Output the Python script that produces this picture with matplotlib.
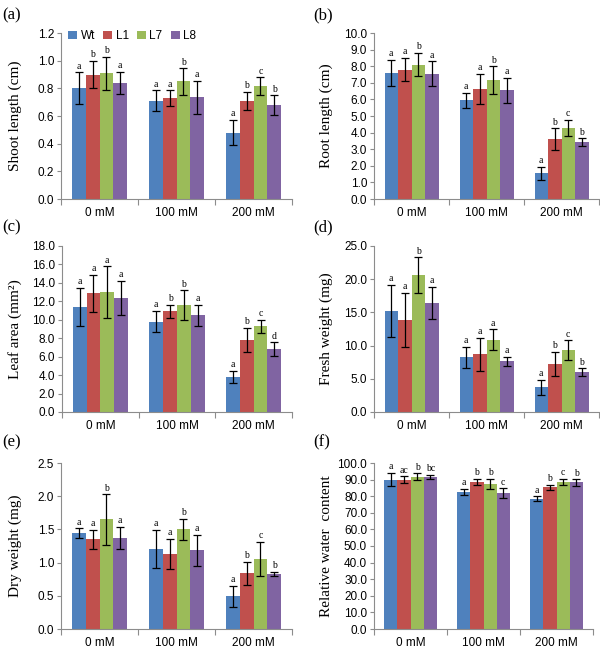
import matplotlib
matplotlib.use("Agg")
import matplotlib.pyplot as plt
import matplotlib.transforms as mtrans
import numpy as np

# ---------------- data ----------------
conditions = ["0 mM", "100 mM", "200 mM"]
lines = ["Wt", "L1", "L7", "L8"]
colors = ["#4F81BD", "#C0504D", "#9BBB59", "#8064A2"]

# rows: Wt, L1, L7, L8 ; columns: 0, 100, 200 mM
shoot_mean = [[0.80, 0.71, 0.48], [0.90, 0.73, 0.71], [0.91, 0.85, 0.815], [0.84, 0.735, 0.68]]
shoot_err = [[0.115, 0.075, 0.09], [0.10, 0.055, 0.065], [0.12, 0.095, 0.065], [0.08, 0.12, 0.07]]
shoot_letters = [["a", "a", "a"], ["b", "a", "b"], ["b", "b", "c"], ["a", "a", "b"]]

root_mean = [[7.6, 5.95, 1.55], [7.8, 6.65, 3.6], [8.1, 7.15, 4.27], [7.55, 6.55, 3.43]]
root_err = [[0.8, 0.45, 0.4], [0.7, 0.9, 0.65], [0.7, 0.85, 0.5], [0.75, 0.75, 0.22]]
root_letters = [["a", "a", "a"], ["a", "a", "b"], ["b", "b", "c"], ["a", "a", "b"]]

leaf_mean = [[11.4, 9.8, 3.8], [12.85, 10.9, 7.8], [13.0, 11.6, 9.3], [12.4, 10.5, 6.8]]
leaf_err = [[2.05, 1.15, 0.65], [2.0, 0.75, 1.3], [2.8, 1.6, 0.7], [1.85, 1.15, 0.75]]
leaf_letters = [["a", "a", "a"], ["a", "b", "b"], ["a", "b", "c"], ["a", "a", "d"]]

fresh_mean = [[15.2, 8.25, 3.7], [13.9, 8.7, 7.25], [20.6, 10.9, 9.35], [16.4, 7.65, 6.0]]
fresh_err = [[3.95, 1.6, 1.1], [4.05, 2.5, 1.8], [2.7, 1.55, 1.45], [2.45, 0.65, 0.6]]
fresh_letters = [["a", "a", "a"], ["a", "a", "b"], ["b", "a", "c"], ["a", "a", "b"]]

dry_mean = [[1.44, 1.21, 0.49], [1.35, 1.13, 0.84], [1.65, 1.50, 1.06], [1.37, 1.185, 0.83]]
dry_err = [[0.075, 0.285, 0.165], [0.14, 0.23, 0.175], [0.38, 0.16, 0.255], [0.165, 0.235, 0.035]]
dry_letters = [["a", "a", "a"], ["a", "a", "b"], ["b", "b", "c"], ["a", "a", "b"]]

rwc_mean = [[89.9, 82.6, 78.5], [90.0, 88.4, 85.5], [91.8, 87.4, 88.5], [91.6, 81.9, 88.3]]
rwc_err = [[4.0, 1.7, 1.5], [2.0, 1.9, 1.5], [2.0, 2.9, 1.8], [1.3, 2.8, 1.9]]
rwc_letters = [["a", "a", "a"], ["ac", "b", "b"], ["b", "b", "c"], ["bc", "c", "b"]]

# ---------------- style ----------------
SERIF = "Liberation Serif"
SANS = "Liberation Sans"
plt.rcParams["font.family"] = SANS
SPINE = "#8C8C8C"

W, H = 600, 651
fig = plt.figure(figsize=(W / 100, H / 100), dpi=100)


def px_axes(l, t, r, b):
    return fig.add_axes([l / W, 1 - b / H, (r - l) / W, (b - t) / H])


panels = [
    # tag, box(l,t,r,b), mean, err, letters, ymax, ystep, ylabel, label_x, tag_x, tag_y
    ("(a)", (61, 33, 292, 199), shoot_mean, shoot_err, shoot_letters, 1.2, 0.2, "Shoot length (cm)", 22, 2, 15),
    ("(b)", (374, 33, 599, 199), root_mean, root_err, root_letters, 10.0, 1.0, "Root length (cm)", 333, 313, 15),
    ("(c)", (62, 246, 292, 412), leaf_mean, leaf_err, leaf_letters, 18.0, 2.0, "Leaf area (mm²)", 22, 2, 227),
    ("(d)", (374, 246, 599, 412), fresh_mean, fresh_err, fresh_letters, 25.0, 5.0, "Fresh weight (mg)", 333, 313, 227),
    ("(e)", (61, 463, 292, 629), dry_mean, dry_err, dry_letters, 2.5, 0.5, "Dry weight (mg)", 22, 2, 442),
    ("(f)", (374, 463, 593, 629), rwc_mean, rwc_err, rwc_letters, 100.0, 10.0, "Relative water  content", 333, 313, 442),
]

bw = 0.18
x = np.arange(len(conditions)) + 0.5

for tag, box, mean, err, letters, ymax, ystep, ylabel, lab_x, tag_x, tag_y in panels:
    ax = px_axes(*box)
    for i, name in enumerate(lines):
        xs = x + (i - 1.5) * bw
        ax.bar(xs, mean[i], width=bw, color=colors[i], label=name, zorder=2)
        ax.errorbar(xs, mean[i], yerr=err[i], fmt="none", ecolor="black",
                    elinewidth=0.9, capsize=2.6, capthick=0.9, zorder=3)
        for xi, m, e, lt in zip(xs, mean[i], err[i], letters[i]):
            ax.annotate(lt, (xi, m + e), xytext=(0, 1.2), textcoords="offset points",
                        ha="center", va="bottom", fontsize=7, family=SERIF)
    ax.set_xlim(0, 3)
    ax.set_ylim(0, ymax)
    ax.set_yticks(np.arange(0, ymax + ystep / 2, ystep))
    ax.yaxis.set_major_formatter(matplotlib.ticker.FormatStrFormatter("%.1f"))
    ax.set_xticks([0, 1, 2, 3])
    ax.set_xticklabels([])
    ax.set_xticks(x, minor=True)
    ax.set_xticklabels(conditions, minor=True)
    ax.tick_params(axis="x", which="major", length=4, width=0.8, color=SPINE, direction="out")
    ax.tick_params(axis="x", which="minor", length=0, pad=6, labelsize=8.5)
    ax.tick_params(axis="y", length=3, width=0.8, color=SPINE, direction="out", labelsize=8.5, pad=2)
    for s in ("top", "right"):
        ax.spines[s].set_visible(False)
    for s in ("left", "bottom"):
        ax.spines[s].set_color(SPINE)
        ax.spines[s].set_linewidth(0.8)
    ax.set_ylabel(ylabel, family=SERIF, fontsize=11)
    tr = mtrans.blended_transform_factory(fig.transFigure, ax.transAxes)
    ax.yaxis.set_label_coords(lab_x / W, 0.5, transform=tr)
    fig.text(tag_x / W, 1 - tag_y / H, tag, family=SERIF, fontsize=12, ha="left", va="center")
    if tag == "(a)":
        ax.legend(loc="upper left", ncol=4, frameon=False, fontsize=8.5,
                  bbox_to_anchor=(0.0, 1.06), handlelength=0.75, handleheight=0.75,
                  handletextpad=0.3, columnspacing=0.7, borderaxespad=0.2)

fig.savefig("out.png", dpi=100)
